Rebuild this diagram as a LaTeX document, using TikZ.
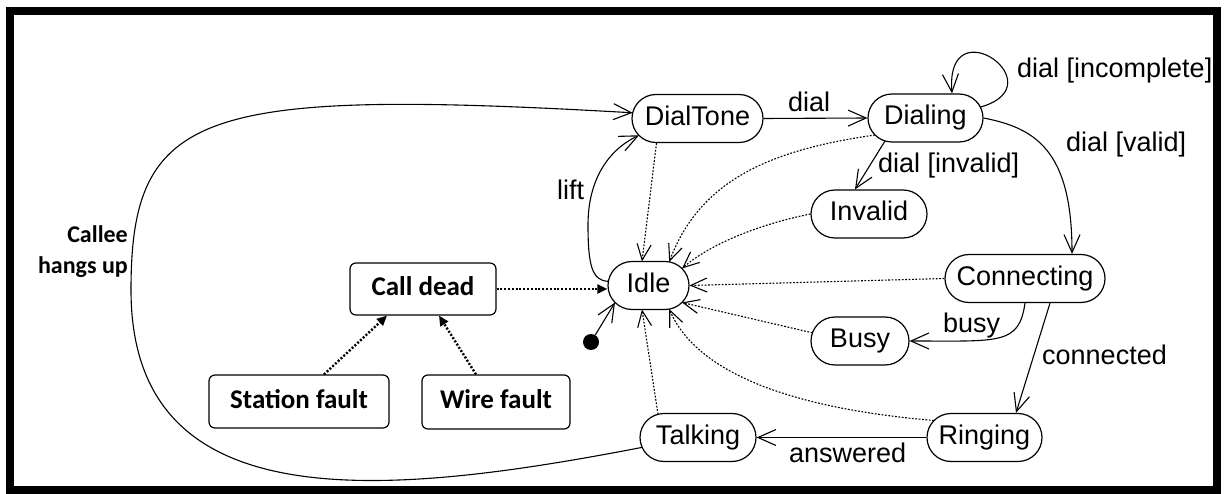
\documentclass[tikz,border=0pt]{standalone}
\usepackage{fontspec}
\setmainfont{Liberation Sans}
\newfontfamily\carlito{Carlito}
\usetikzlibrary{arrows.meta,calc}

\begin{document}
\begin{tikzpicture}[x=1pt,y=-1pt,
  % pill-shaped state, 48pt high; ends are half circles of radius 24pt
  state/.style={rectangle, rounded corners=24pt, draw, line width=1.2pt,
    minimum height=48pt, inner sep=0pt, text height=20pt, text depth=6pt,
    font=\fontsize{27}{32}\selectfont},
  fault/.style={rectangle, rounded corners=6pt, draw, line width=1.2pt, inner sep=0pt,
    text height=19pt, text depth=6pt, font=\carlito\bfseries\fontsize{27}{32}\selectfont},
  trans/.style={line width=1.1pt, -{Straight Barb[length=18pt,width=16pt]}},
  back/.style={line width=1.1pt, dash pattern=on 1.8pt off 1.6pt,
    -{Straight Barb[length=16pt,width=14pt]}},
  cause/.style={line width=2.4pt, dash pattern=on 2pt off 1.8pt,
    -{Triangle[length=10pt,width=9pt]}},
  lbl/.style={font=\fontsize{27}{32}\selectfont, inner sep=0pt, anchor=base west},
  note/.style={font=\carlito\bfseries\fontsize{24}{28}\selectfont, inner sep=0pt, anchor=base east}
]
\useasboundingbox (0,0) rectangle (1224,494);

% outer frame
\draw[line width=8pt] (10,11) rectangle (1217,490);

% states
\node[state, minimum width=131pt] (DialTone)   at (697.5,118.5) {DialTone};
\node[state, minimum width=115pt] (Dialing)    at (925.5,118)   {Dialing};
\node[state, minimum width=116pt] (Invalid)    at (869,214)     {Invalid};
\node[state, minimum width=81pt]  (Idle)       at (648.5,285.5) {Idle};
\node[state, minimum width=160pt] (Connecting) at (1025,278.5)  {Connecting};
\node[state, minimum width=98pt]  (Busy)       at (860,341)     {Busy};
\node[state, minimum width=115pt] (Ringing)    at (984.5,437.5) {Ringing};
\node[state, minimum width=116pt] (Talking)    at (698,437.5)   {Talking};

% fault boxes
\node[fault, minimum width=146pt, minimum height=52pt] (CallDead)     at (423,289)   {Call dead};
\node[fault, minimum width=180pt, minimum height=53pt] (StationFault) at (299,401.5) {Station fault};
\node[fault, minimum width=148pt, minimum height=54pt] (WireFault)    at (496,402)   {Wire fault};

% initial pseudo-state
\node[circle, fill, inner sep=0pt, minimum size=16pt] (init) at (591,342) {};

% normal transitions (end points placed on the rounded outlines)
\draw[trans] (init) -- ($(Idle)+(-33.5,17)$);
\draw[trans] ($(Idle)+(-40.1,-4.2)$) .. controls (592,281) and (588,265) .. (588,225)
             .. controls (588,180) and (608,150) .. ($(DialTone)+(-58.5,16.8)$);
\draw[trans] (DialTone.east) -- (Dialing.west);
\draw[trans] ($(Dialing)+(54.9,-10.9)$) .. controls (1058,85) and (945,5) .. ([xshift=26.5pt]Dialing.north);
\draw[trans] ($(Dialing)+(-40.5,23)$) -- ([xshift=-14pt]Invalid.north);
\draw[trans] (Dialing.east) .. controls (1035,128) and (1072,150) .. ([xshift=47pt]Connecting.north);
\draw[trans] (Connecting.south) .. controls (1019,345) and (1000,341) .. (Busy.east);
\draw[trans] ([xshift=25pt]Connecting.south) -- ([xshift=31.5pt]Ringing.north);
\draw[trans] (Ringing.west) -- (Talking.east);
\coordinate (hangup) at (131,290);
\draw[trans] ($(Talking)+(-56,9.9)$) .. controls (380,498) and (131,520) .. (hangup)
             .. controls (131,110) and (200,88) .. ($(DialTone)+(-64.8,-5.7)$);

% returns to Idle
\draw[back] ([xshift=-41pt]DialTone.south) -- ($(Idle)+(-6.5,-24)$);
\draw[back] ($(Dialing)+(-50.5,17)$) .. controls (770,150) and (700,180) .. ($(Idle)+(20.7,-23.6)$);
\draw[back] (Invalid.west) .. controls (770,222) and (715,240) .. ($(Idle)+(33.5,-17)$);
\draw[back] (Connecting.west) -- (Idle.east);
\draw[back] ($(Busy)+(-47.6,-8.2)$) -- ($(Idle)+(33.5,17)$);
\draw[back] ($(Ringing)+(-50.5,-17)$) .. controls (810,410) and (700,380) .. ($(Idle)+(20.7,23.6)$);
\draw[back] ($(Talking)+(-40,-23.2)$) -- ($(Idle)+(-6.5,24)$);

% faults
\draw[cause] (CallDead.east) -- (CallDead.east -| Idle.west);
\draw[cause] ([xshift=25pt]StationFault.north) -- ([xshift=-36pt]CallDead.south);
\draw[cause] ([xshift=-20pt]WireFault.north) -- ([xshift=16pt]CallDead.south);

% transition labels
\node[lbl] (lDial)       at (788,112)  {dial};
\node[lbl] (lIncomplete) at (1017,78)  {dial [incomplete]};
\node[lbl] (lInvalid)    at (878,173)  {dial [invalid]};
\node[lbl] (lValid)      at (1066,152) {dial [valid]};
\node[lbl] (lLift)       at (557,200)  {lift};
\node[lbl] (lBusy)       at (943,333)  {busy};
\node[lbl] (lConnected)  at (1042,365) {connected};
\node[lbl] (lAnswered)   at (789,462)  {answered};
\node[note] (nCallee)    at (128,243)  {Callee};
\node[note] (nHangs)     at (128,274)  {hangs up};
\end{tikzpicture}
\end{document}
